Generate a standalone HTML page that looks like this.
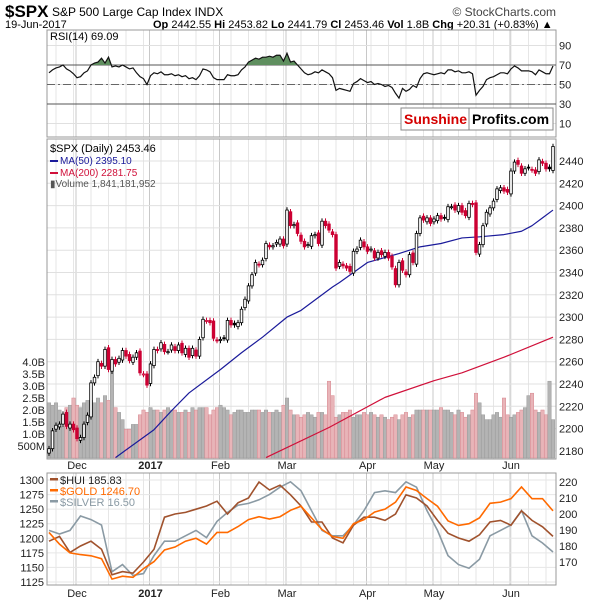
<!DOCTYPE html>
<html><head><meta charset="utf-8"><style>
body{margin:0;background:#fff;font-family:"Liberation Sans",sans-serif;}
svg{display:block}
</style></head><body>
<svg id="chart" width="600" height="600" viewBox="0 0 600 600" xmlns="http://www.w3.org/2000/svg" font-family="Liberation Sans, sans-serif">
<rect width="600" height="600" fill="#fff"/>
<text x="5" y="17" font-size="17" font-weight="bold" fill="#000">$SPX</text>
<text x="52" y="16" font-size="12" fill="#000">S&amp;P 500 Large Cap Index  INDX</text>
<text x="556" y="16" font-size="12" fill="#444" text-anchor="end">© StockCharts.com</text>
<text x="5" y="28" font-size="11" fill="#000">19-Jun-2017</text>
<text x="153" y="28" font-size="11" fill="#000"><tspan font-weight="bold">Op</tspan> 2442.55 <tspan font-weight="bold">Hi</tspan> 2453.82 <tspan font-weight="bold">Lo</tspan> 2441.79 <tspan font-weight="bold">Cl</tspan> 2453.46 <tspan font-weight="bold">Vol</tspan> 1.8B <tspan font-weight="bold">Chg</tspan> +20.31 (+0.83%) ▲</text>
<g id="grid"></g>
<g id="panels"></g>
<g id="marks"></g>
<g id="labels"></g>
</svg>
<script>
// ---- data ----
const closes=[2182,2198,2203,2204,2213,2202,2204,2199,
2191,2192,2204,2212,2241,2246,2260,2256,2271,2253,2262,2258,2263,2270,2265,2261,2264,2268,2250,2249,2239,
2258,2271,2270,2277,2269,2269,2275,2270,2275,2268,2272,2264,2272,2265,2280,2298,2297,2295,2281,2279,
2280,2281,2297,2293,2293,2295,2307,2316,2328,2338,2349,2347,2351,2366,2363,2364,2367,2370,2364,
2396,2382,2383,2375,2368,2363,2365,2373,2374,2366,2386,2382,2378,2374,2344,2349,2346,2344,2341,2359,2361,2369,2363,
2359,2361,2353,2358,2356,2358,2353,2345,2329,2349,2342,2338,2356,2349,2375,2389,2387,2389,2384,
2388,2391,2388,2389,2399,2399,2396,2400,2394,2391,2402,2401,2358,2365,2382,2394,2398,2404,2415,2416,2413,2412,
2431,2439,2437,2429,2433,2434,2432,2429,2441,2438,2433,2433,2453];
const volumes=[2.3,2.2,2.3,2.0,1.3,2.1,2.2,2.5,
2.2,2.1,2.3,2.4,2.4,2.3,2.5,2.3,2.6,2.4,3.6,2.1,1.9,1.6,1.2,1.2,1.4,1.4,1.8,2.0,1.9,
2.1,2.0,2.0,1.9,2.0,2.1,2.0,2.0,1.9,1.9,2.0,1.9,2.1,2.0,2.1,2.1,2.1,1.8,2.0,2.1,
2.2,2.1,2.0,1.8,1.9,2.0,2.0,1.9,1.9,2.0,2.0,2.0,1.9,2.0,1.9,1.9,2.0,1.9,2.2,
2.5,2.0,1.8,1.8,1.7,1.8,1.9,1.8,1.7,1.9,1.9,1.8,3.2,2.6,1.7,1.8,1.9,1.9,2.0,1.7,1.8,1.8,1.9,
1.8,1.9,1.8,1.7,1.8,1.7,1.6,1.7,1.8,1.6,1.8,1.9,1.7,1.8,2.0,2.0,2.0,2.0,2.0,
2.0,2.0,2.1,2.0,2.0,1.9,1.8,2.0,1.9,1.7,1.8,2.0,2.7,2.3,1.8,1.6,1.6,1.8,1.9,1.7,2.5,1.8,
1.7,1.8,1.9,2.0,2.1,2.6,2.7,2.0,1.9,2.0,1.8,3.2,1.6];
const rsi=[62,65,67,68,70,66,64,61,
57,58,62,64,70,72,73,77,72,78,68,69,68,70,68,66,67,62,58,56,50,
59,62,61,63,60,60,61,59,60,58,59,56,57,55,59,66,65,63,57,55,
55,55,60,59,59,60,65,68,73,75,77,76,78,78,79,78,80,80,74,
82,73,74,70,66,62,60,61,63,62,65,63,61,57,44,46,45,44,43,51,53,56,54,
52,53,50,51,50,48,49,47,41,36,46,43,45,49,47,56,61,62,61,
60,61,62,61,65,65,63,64,62,62,63,61,39,44,48,55,57,58,60,62,62,61,
66,69,67,64,64,64,63,60,65,63,61,61,69];
const ma50Idx=[19,30,35,40,49,55,61,68,72,81,83,91,100,106,112,118,123,130,135,138,141,144];
const ma50Val=[2174,2199,2216,2232,2253,2268,2282,2300,2306,2327,2331,2349,2357,2363,2366,2371,2372,2374,2377,2382,2389,2396];
const ma200Idx=[62,80,96,110,118,130,144];
const ma200Val=[2174,2201,2228,2243,2250,2264,2282];
const lowerIdx=[0,3,6,9,12,15,18,21,24,27,30,33,36,39,42,45,48,51,54,57,60,63,66,69,72,75,78,81,84,87,90,93,96,99,102,105,108,111,114,117,120,123,126,129,132,135,138,141,144];
const gold=[1210,1190,1175,1172,1170,1165,1130,1135,1133,1148,1160,1180,1185,1195,1200,1190,1210,1210,1220,1232,1237,1233,1237,1248,1255,1235,1215,1203,1200,1225,1232,1245,1250,1262,1288,1282,1268,1255,1230,1222,1225,1235,1260,1262,1268,1288,1268,1268,1247];
const hui=[183,186,176,180,183,178,162,164,163,170,178,198,200,201,203,205,208,200,207,210,220,215,218,212,205,195,195,185,182,193,198,198,196,200,212,210,205,196,188,185,183,187,195,196,193,202,196,192,186];
const silver=[17.1,17.0,17.1,17.5,17.4,17.25,15.95,16.15,15.85,15.9,16.4,16.8,16.8,16.95,17.1,16.9,17.35,17.6,17.8,17.85,17.95,18.1,18.3,18.45,18.2,17.65,17.1,16.95,16.95,17.25,17.65,18.15,18.2,18.15,18.45,18.3,17.65,17.1,16.4,16.15,16.05,16.3,16.95,17.1,17.25,17.65,16.95,16.75,16.5];
const monthLabels=["Dec","2017","Feb","Mar","Apr","May","Jun"];
const monthIdx=[8,29,49,68,91,110,132];
const rsiTicks=[90,70,50,30,10];
const priceTicks=[2440,2420,2400,2380,2360,2340,2320,2300,2280,2260,2240,2220,2200,2180];
const volTicks=[4.0,3.5,3.0,2.5,2.0,1.5,1.0,0.5];
const volTickLabels=["4.0B","3.5B","3.0B","2.5B","2.0B","1.5B","1.0B","500M"];
const leftTicks=[1300,1275,1250,1225,1200,1175,1150,1125];
const rightTicks=[220,210,200,190,180,170];

// ---- scales ----
const L=47,R=556;
const X=i=>49+3.5*i;
const yRsi=v=>65+(70-v)*0.975;
const yP=v=>161+(2440-v)*1.115;
const yV=v=>458-v*24;
const yG=v=>480+(1300-v)*102/175;
const yH=v=>482+(220-v)*1.6;
const yS=v=>552-(v-16.5)*36;
const NS="http://www.w3.org/2000/svg";
function mk(tag,attrs,parent){const e=document.createElementNS(NS,tag);for(const k in attrs)e.setAttribute(k,attrs[k]);parent.appendChild(e);return e;}
const grid=document.getElementById('grid'),panels=document.getElementById('panels'),marks=document.getElementById('marks'),labels=document.getElementById('labels');
const P1={t:30,b:137},P2={t:139,b:459},P3={t:473,b:585};

const defs=mk('defs',{},document.getElementById('chart'));
[['c1',P1],['c2',P2],['c3',P3]].forEach(([id,p])=>{const c=mk('clipPath',{id:id},defs);mk('rect',{x:L,y:p.t,width:R-L,height:p.b-p.t},c);});
const cAbove=mk('clipPath',{id:'cabove'},defs);mk('rect',{x:L,y:P1.t,width:R-L,height:yRsi(70)-P1.t},cAbove);

for(let i=2;i<145;i+=5){[P1,P2,P3].forEach(p=>{const l=mk('line',{x1:X(i),x2:X(i),y1:p.t,y2:p.b,stroke:'#e6e6e6','stroke-width':1},grid);});}
monthIdx.forEach(i=>{[P1,P2,P3].forEach(p=>{const l=mk('line',{x1:X(i)-1,x2:X(i)-1,y1:p.t,y2:p.b,stroke:'#c8c8c8','stroke-width':1},grid);});});
rsiTicks.forEach(v=>{const l=mk('line',{x1:L,x2:R,y1:yRsi(v),y2:yRsi(v),stroke:'#e0e0e0'},grid);});
priceTicks.forEach(v=>{const l=mk('line',{x1:L,x2:R,y1:yP(v),y2:yP(v),stroke:'#e0e0e0'},grid);});
leftTicks.forEach(v=>{const l=mk('line',{x1:L,x2:R,y1:yG(v),y2:yG(v),stroke:'#e6e6e6'},grid);});

[P1,P2,P3].forEach((p,k)=>{const r=mk('rect',{x:L,y:p.t,width:R-L,height:p.b-p.t,fill:'none',stroke:'#999','stroke-width':1},panels);});
[70,30].forEach(v=>{const l=mk('line',{x1:L,x2:R,y1:yRsi(v),y2:yRsi(v),stroke:'#555','stroke-width':1},panels);});
{const l=mk('line',{x1:L,x2:R,y1:yRsi(50),y2:yRsi(50),stroke:'#666','stroke-dasharray':'8 3 2 3'},panels);}

const rsiPts=rsi.map((v,i)=>X(i)+','+yRsi(v)).join(' ');
const rsiArea=mk('polygon',{points:X(0)+','+yRsi(70)+' '+rsiPts+' '+X(rsi.length-1)+','+yRsi(70),fill:'#5f8f5f','clip-path':'url(#cabove)'},marks);


const rsiLine=mk('polyline',{points:rsiPts,fill:'none',stroke:'#111','stroke-width':1.2,'clip-path':'url(#c1)'},marks);



volumes.forEach((v,i)=>{const down=i>0&&closes[i]<closes[i-1];
const b=mk('rect',{x:X(i)-1.7,y:yV(v),width:3.4,height:458-yV(v),fill:down?'#e8b4b8':'#b4b4b4',stroke:down?'#d88890':'#9a9a9a','stroke-width':0.5,'clip-path':'url(#c2)'},marks);

});

const ma50=mk('polyline',{points:ma50Idx.map((d,k)=>X(d)+','+yP(ma50Val[k])).join(' '),fill:'none',stroke:'#1a1a9a','stroke-width':1.2,'stroke-linejoin':'round','clip-path':'url(#c2)'},marks);


const ma200=mk('polyline',{points:ma200Idx.map((d,k)=>X(d)+','+yP(ma200Val[k])).join(' '),fill:'none',stroke:'#d0103a','stroke-width':1.2,'stroke-linejoin':'round','clip-path':'url(#c2)'},marks);



closes.forEach((c,i)=>{const o=i>0?closes[i-1]+(i%3-1)*1.5:c-4;const hi=Math.max(o,c)+2.5,lo=Math.min(o,c)-2.5;
const red=i>0&&c<closes[i-1];const col=red?'#cc0033':'#000';
const w=mk('line',{x1:X(i),x2:X(i),y1:yP(hi),y2:yP(lo),stroke:col,'stroke-width':1,'clip-path':'url(#c2)'},marks);


const top=yP(Math.max(o,c)),h=Math.max(1,Math.abs(yP(o)-yP(c)));
const b=mk('rect',{x:X(i)-1.3,y:top,width:2.6,height:h,fill:c<o?col:'#fff',stroke:col,'stroke-width':0.8,'clip-path':'url(#c2)'},marks);

});

function series(vals,fy,color,name){const p=mk('polyline',{points:lowerIdx.map((d,k)=>X(d)+','+fy(vals[k])).join(' '),fill:'none',stroke:color,'stroke-width':1.6,'clip-path':'url(#c3)'},marks);}
series(silver,yS,'#8a9aa4','silver-line');
series(hui,yH,'#a0522d','hui-line');
series(gold,yG,'#ff6a00','gold-line');

function txt(x,y,s,opts,name){const t=mk('text',Object.assign({x:x,y:y,'font-size':11,fill:'#222'},opts||{}),labels);t.textContent=s;return t;}
rsiTicks.forEach(v=>txt(559,yRsi(v)+4,String(v),{},'rsi-tick-label'));
priceTicks.forEach(v=>txt(559,yP(v)+4,String(v),{},'price-tick-label'));
volTicks.forEach((v,k)=>txt(45,yV(v)+4,volTickLabels[k],{'text-anchor':'end'},'volume-tick-label'));
leftTicks.forEach(v=>txt(44,yG(v)+4,String(v),{'text-anchor':'end'},'lower-left-tick-label'));
rightTicks.forEach(v=>txt(559,yH(v)+4,String(v),{},'lower-right-tick-label'));
monthIdx.forEach((d,k)=>{const b=monthLabels[k]==="2017"?{'font-weight':'bold','text-anchor':'middle'}:{'text-anchor':'middle'};
txt(X(d),469,monthLabels[k],b,'x-axis-label');txt(X(d),597,monthLabels[k],b,'x-axis-label-bottom');});

txt(50,40,'RSI(14) 69.09',{'font-size':11,fill:'#000'},'rsi-legend');
txt(50,152,'$SPX (Daily) 2453.46',{fill:'#000'},'spx-legend');
mk('rect',{x:50,y:160,width:8,height:2,fill:'#1a1a9a'},labels);
txt(60,164,'MA(50) 2395.10',{fill:'#1a1a9a','font-size':10},'ma50-legend');
mk('rect',{x:50,y:172,width:8,height:2,fill:'#d0103a'},labels);
txt(60,176,'MA(200) 2281.75',{fill:'#d0103a','font-size':10},'ma200-legend');
txt(50,187,'▮Volume 1,841,181,952',{fill:'#555','font-size':10},'volume-legend');
mk('rect',{x:50,y:478,width:8,height:2.5,fill:'#a0522d'},labels);
txt(60,484,'$HUI 185.83',{fill:'#222'},'hui-legend');
mk('rect',{x:50,y:489,width:8,height:2.5,fill:'#ff6a00'},labels);
txt(60,495,'$GOLD 1246.70',{fill:'#ff6a00'},'gold-legend');
mk('rect',{x:50,y:500,width:8,height:2.5,fill:'#8a9aa4'},labels);
txt(60,506,'$SILVER 16.50',{fill:'#8a9aa4'},'silver-legend');

const box=mk('rect',{x:401,y:108,width:152,height:22,fill:'#fff',stroke:'#888','stroke-width':1},labels);


mk('line',{x1:469,x2:469,y1:108,y2:130,stroke:'#888'},labels);
txt(404,124,'Sunshine',{'font-size':14,'font-weight':'bold',fill:'#d40000'},'logo-sunshine');
txt(472,124,'Profits.com',{'font-size':14,'font-weight':'bold',fill:'#000'},'logo-profits');
</script>
</body></html>
